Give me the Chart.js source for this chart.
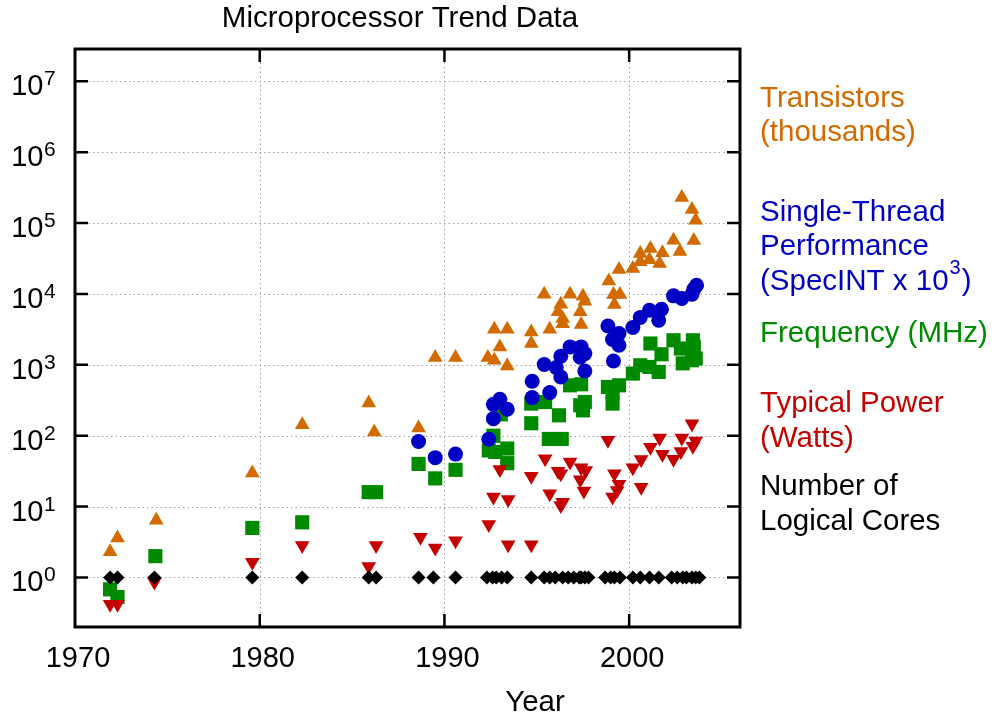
<!DOCTYPE html>
<html>
<head>
<meta charset="utf-8">
<title>Microprocessor Trend Data</title>
<script src="https://cdn.jsdelivr.net/npm/chart.js@4.4.0/dist/chart.umd.min.js"></script>
<style>
  html, body { margin: 0; padding: 0; background: #fff; }
  canvas { display: block; }
</style>
</head>
<body>
<canvas id="myChart" width="997" height="717"></canvas>
<script>
// [year, value]
const transistors = [
  [1971.9, 2.3], [1972.3, 3.6], [1974.4, 6.4], [1979.6, 29.7], [1982.3, 143],
  [1985.9, 290], [1986.2, 113], [1988.6, 129], [1989.5, 1270], [1990.6, 1270],
  [1992.35, 1270], [1992.7, 1160], [1993.0, 1790], [1993.4, 964], [1992.7, 3180],
  [1993.4, 3180], [1994.7, 2910], [1994.7, 2000], [1995.7, 3180], [1995.4, 9930],
  [1996.4, 3800], [1996.4, 4500], [1996.15, 5590], [1996.3, 7170], [1996.8, 9930],
  [1997.4, 3700], [1997.35, 5590], [1997.5, 9290], [1997.6, 7910], [1998.9, 15300],
  [1999.15, 9850], [1999.2, 7100], [1999.5, 9850], [1999.45, 22100], [2000.2, 22800],
  [2000.6, 37200], [2000.6, 28400], [2001.15, 43800], [2001.1, 30500], [2001.8, 38000],
  [2001.65, 26900], [2002.4, 57400], [2002.75, 39600], [2003.5, 56700], [2002.85, 230000],
  [2003.4, 156000], [2003.6, 110000]
];
const performance = [
  [1988.6, 83], [1989.5, 49], [1990.6, 55], [1992.4, 89], [1992.65, 174],
  [1992.65, 277], [1993.0, 327], [1993.4, 236], [1994.75, 586], [1994.75, 345],
  [1995.7, 406], [1995.4, 1010], [1996.05, 916], [1996.3, 674], [1996.3, 1320],
  [1996.8, 1790], [1997.4, 1790], [1997.6, 1440], [1997.35, 1280], [1997.6, 819],
  [1998.85, 3540], [1999.45, 2770], [1999.1, 2280], [1999.45, 1890], [1999.15, 1135],
  [2000.2, 3360], [2000.6, 4650], [2001.1, 5900], [2001.75, 6100], [2001.6, 4260],
  [2002.4, 9400], [2002.85, 8630], [2003.4, 9930], [2003.5, 11700], [2003.65, 13300]
];
const frequency = [
  [1971.9, 0.68], [1972.3, 0.53], [1974.35, 2.0], [1979.6, 5.0], [1982.3, 6.0],
  [1985.9, 16], [1986.3, 16], [1988.6, 40], [1989.5, 25], [1990.6, 33],
  [1992.4, 62], [1992.65, 100], [1992.75, 59], [1993.05, 200], [1993.4, 66],
  [1993.4, 41], [1994.7, 150], [1994.7, 284], [1995.45, 299], [1996.2, 194],
  [1995.65, 90], [1996.35, 90], [1996.8, 514], [1997.4, 532], [1997.35, 269],
  [1997.6, 299], [1997.5, 228], [1998.85, 487], [1999.45, 514], [1999.1, 414],
  [1999.1, 284], [2000.2, 753], [2000.6, 986], [2001.1, 933], [2001.15, 2000],
  [2001.75, 1410], [2001.6, 794], [2002.4, 2220], [2002.8, 1700], [2002.9, 1050],
  [2003.4, 1160], [2003.45, 2220], [2003.5, 1790], [2003.6, 1230]
];
const power = [
  [1971.9, 0.42], [1972.3, 0.42], [1974.3, 0.86], [1979.6, 1.64], [1982.3, 2.83],
  [1985.9, 1.43], [1986.3, 2.83], [1988.7, 3.7], [1989.5, 2.6], [1990.6, 3.3],
  [1992.4, 5.6], [1993.45, 2.9], [1994.7, 2.9], [1992.65, 13.6], [1993.45, 12.6],
  [1993.0, 33.4], [1994.7, 26.7], [1995.45, 47.5], [1995.7, 15.2], [1996.15, 31.6],
  [1996.3, 29.0], [1996.3, 10.4], [1996.4, 11.5], [1996.8, 42.5], [1997.4, 35.3],
  [1997.65, 32.4], [1997.35, 23.9], [1997.55, 16.6], [1998.85, 86], [1999.2, 29.1],
  [1999.45, 20.6], [1999.35, 16.9], [1999.1, 13.6], [2000.2, 35.4], [2000.65, 46],
  [2000.65, 18.8], [2001.15, 69], [2001.65, 92.7], [2001.8, 54.6], [2002.4, 46.5],
  [2002.8, 60], [2002.85, 92.7], [2003.4, 148], [2003.6, 84], [2003.45, 71]
];
const coreYears = [
  1971.9, 1972.3, 1974.3, 1979.6, 1982.3, 1985.9, 1986.3, 1988.6, 1989.4, 1990.6,
  1992.3, 1992.6, 1992.8, 1993.1, 1993.4, 1994.7, 1995.4, 1995.7, 1996.0, 1996.4,
  1996.7, 1997.0, 1997.3, 1997.4, 1997.6, 1997.8, 1998.7, 1999.0, 1999.2, 1999.5,
  2000.2, 2000.6, 2001.1, 2001.6, 2002.3, 2002.6, 2002.9, 2003.1, 2003.4, 2003.6, 2003.8
];
const coreCounts = coreYears.map(() => 1);

const xTicks = [1970, 1980, 1990, 2000];
const yTickExp = [0, 1, 2, 3, 4, 5, 6, 7];

const FONT = '"Liberation Sans", Arial, Helvetica, sans-serif';
const ORANGE = "#d26a00";
const BLUE = "#0000c4";
const GREEN = "#008a00";
const RED = "#c40000";

function pts(arr) {
  return arr.map((p) => ({ x: p[0], y: p[1] }));
}

// grid, frame, ticks and all texts
const overlay = {
  id: "overlay",
  beforeDatasetsDraw(chart) {
    const ctx = chart.ctx;
    const a = chart.chartArea;
    const sx = chart.scales.x;
    const sy = chart.scales.y;
    ctx.save();
    ctx.strokeStyle = "#a0a0a0";
    ctx.lineWidth = 1;
    ctx.setLineDash([1.5, 3]);
    for (const t of xTicks) {
      const px = Math.round(sx.getPixelForValue(t)) + 0.5;
      if (px < a.left + 3) continue;
      ctx.beginPath();
      ctx.moveTo(px, a.top);
      ctx.lineTo(px, a.bottom);
      ctx.stroke();
    }
    for (const e of yTickExp) {
      const py = Math.round(sy.getPixelForValue(Math.pow(10, e))) + 0.5;
      ctx.beginPath();
      ctx.moveTo(a.left, py);
      ctx.lineTo(a.right, py);
      ctx.stroke();
    }
    ctx.restore();
  },
  afterDraw(chart) {
    const ctx = chart.ctx;
    const a = chart.chartArea;
    const sx = chart.scales.x;
    const sy = chart.scales.y;
    ctx.save();

    // frame
    ctx.strokeStyle = "#000";
    ctx.lineWidth = 3;
    ctx.strokeRect(a.left, a.top, a.right - a.left, a.bottom - a.top);

    // inner tick marks
    ctx.lineWidth = 2.5;
    const tl = 13;
    for (const t of xTicks) {
      const px = sx.getPixelForValue(t);
      if (px < a.left + 3) continue;
      ctx.beginPath();
      ctx.moveTo(px, a.bottom);
      ctx.lineTo(px, a.bottom - tl);
      ctx.moveTo(px, a.top);
      ctx.lineTo(px, a.top + tl);
      ctx.stroke();
    }
    for (const e of yTickExp) {
      const py = sy.getPixelForValue(Math.pow(10, e));
      ctx.beginPath();
      ctx.moveTo(a.left, py);
      ctx.lineTo(a.left + tl, py);
      ctx.moveTo(a.right, py);
      ctx.lineTo(a.right - tl, py);
      ctx.stroke();
    }

    // tick labels
    ctx.fillStyle = "#000";
    ctx.textBaseline = "alphabetic";
    ctx.font = "29px " + FONT;
    ctx.textAlign = "center";
    for (const t of xTicks) {
      ctx.fillText(String(t), sx.getPixelForValue(t) + 3, 667);
    }
    for (const e of yTickExp) {
      const py = sy.getPixelForValue(Math.pow(10, e));
      ctx.font = "29px " + FONT;
      ctx.textAlign = "right";
      ctx.fillText("10", 43.5, py + 14);
      ctx.font = "21px " + FONT;
      ctx.textAlign = "left";
      ctx.fillText(String(e), 44, py + 4);
    }

    // title and axis title
    ctx.font = "29.5px " + FONT;
    ctx.textAlign = "center";
    ctx.fillText("Microprocessor Trend Data", 400, 27);
    ctx.fillText("Year", 535, 711);

    // series labels at the right
    ctx.textAlign = "left";
    const lx = 760;
    const line = (txt, color, y) => {
      ctx.fillStyle = color;
      ctx.font = "29.5px " + FONT;
      ctx.fillText(txt, lx, y);
    };
    line("Transistors", ORANGE, 107);
    line("(thousands)", ORANGE, 141);
    line("Single-Thread", BLUE, 221);
    line("Performance", BLUE, 255);
    // (SpecINT x 10^3)
    ctx.fillStyle = BLUE;
    ctx.font = "29.5px " + FONT;
    const part1 = "(SpecINT x 10";
    ctx.fillText(part1, lx, 290);
    let w = ctx.measureText(part1).width;
    ctx.font = "20px " + FONT;
    ctx.fillText("3", lx + w + 1, 274);
    w += ctx.measureText("3").width + 2;
    ctx.font = "29.5px " + FONT;
    ctx.fillText(")", lx + w, 290);
    line("Frequency (MHz)", GREEN, 342);
    line("Typical Power", RED, 412);
    line("(Watts)", RED, 447);
    line("Number of", "#000", 495);
    line("Logical Cores", "#000", 530);

    ctx.restore();
  }
};

const ctx = document.getElementById("myChart").getContext("2d");

const myChart = new Chart(ctx, {
  type: "scatter",
  data: {
    datasets: [
      {
        label: "Number of Logical Cores",
        data: coreYears.map((y, i) => ({ x: y, y: coreCounts[i] })),
        pointStyle: "rectRot",
        pointRadius: 7,
        backgroundColor: "#000",
        borderWidth: 0,
        order: 0,
      },
      {
        label: "Single-Thread Performance (SpecINT x 10^3)",
        data: pts(performance),
        pointStyle: "circle",
        pointRadius: 7.5,
        backgroundColor: BLUE,
        borderWidth: 0,
        order: 1,
      },
      {
        label: "Typical Power (Watts)",
        data: pts(power),
        pointStyle: "triangle",
        pointRotation: 180,
        pointRadius: 8.5,
        backgroundColor: RED,
        borderWidth: 0,
        order: 2,
      },
      {
        label: "Frequency (MHz)",
        data: pts(frequency),
        pointStyle: "rect",
        pointRadius: 10,
        backgroundColor: GREEN,
        borderWidth: 0,
        order: 3,
      },
      {
        label: "Transistors (thousands)",
        data: pts(transistors),
        pointStyle: "triangle",
        pointRadius: 8.5,
        backgroundColor: ORANGE,
        borderWidth: 0,
        order: 4,
      },
    ],
  },
  options: {
    responsive: false,
    animation: false,
    devicePixelRatio: 1,
    layout: { padding: { left: 0, right: 257, top: 49, bottom: 0 } },
    plugins: {
      legend: { display: false },
      title: { display: false },
      tooltip: { enabled: false },
    },
    scales: {
      x: {
        type: "linear",
        min: 1970,
        max: 2006,
        grid: { display: false },
        border: { display: false },
        ticks: { display: false },
        afterBuildTicks: (s) => { s.ticks = xTicks.map((v) => ({ value: v })); },
        afterFit: (s) => { s.height = 90; },
      },
      y: {
        type: "logarithmic",
        min: 0.2,
        max: 2.86e7,
        grid: { display: false },
        border: { display: false },
        ticks: { display: false },
        afterBuildTicks: (s) => { s.ticks = yTickExp.map((e) => ({ value: Math.pow(10, e) })); },
        afterFit: (s) => { s.width = 75; },
      },
    },
  },
  plugins: [overlay],
});
</script>
</body>
</html>
